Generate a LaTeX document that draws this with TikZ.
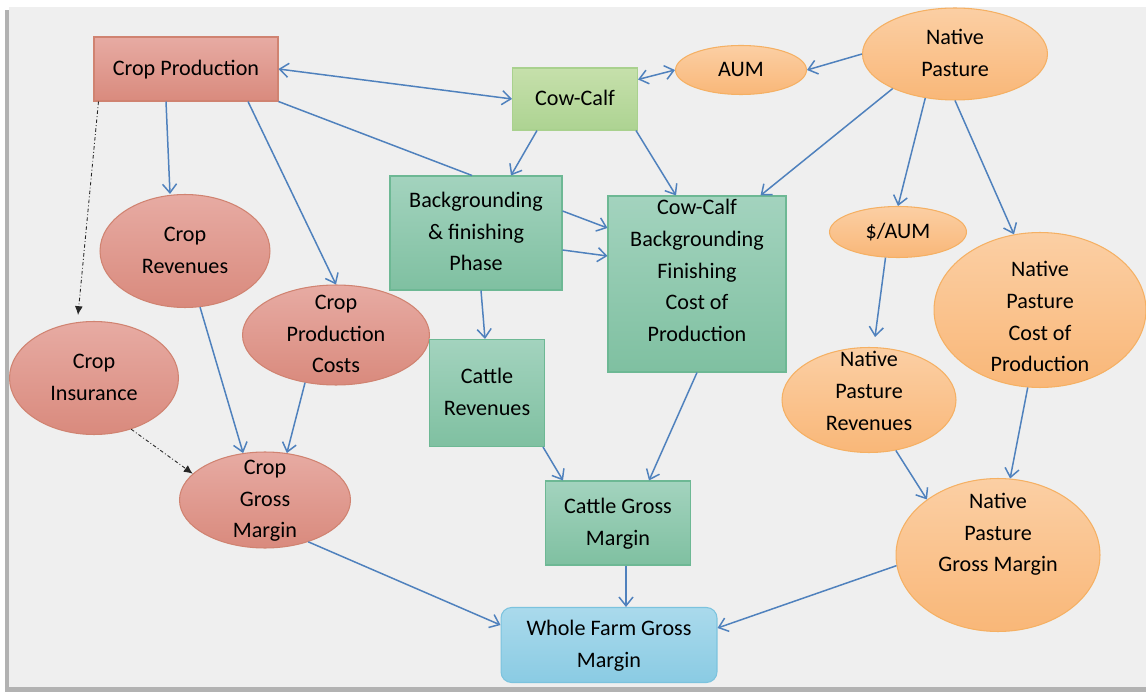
\documentclass[tikz,border=0pt]{standalone}
\usepackage{fontspec}
\setmainfont{Carlito}
\usetikzlibrary{shapes.geometric, arrows.meta, calc}
\definecolor{linkblue}{HTML}{4F81BD}
\definecolor{panelgray}{HTML}{EFEFEF}
\definecolor{croptop}{HTML}{E7ABA3}
\definecolor{cropbot}{HTML}{D98A7D}
\definecolor{cropline}{HTML}{D08371}
\definecolor{calftop}{HTML}{C6E0AB}
\definecolor{calfbot}{HTML}{ADD392}
\definecolor{calfline}{HTML}{A9D18E}
\definecolor{cattletop}{HTML}{A3D3BE}
\definecolor{cattlebot}{HTML}{7FC0A1}
\definecolor{cattleline}{HTML}{6DB894}
\definecolor{pasturetop}{HTML}{FBCFA4}
\definecolor{pasturebot}{HTML}{F9B778}
\definecolor{pastureline}{HTML}{F5B063}
\definecolor{farmtop}{HTML}{AADAEC}
\definecolor{farmbot}{HTML}{8ACBE3}
\definecolor{farmline}{HTML}{7CC3DE}
% text block with zero height, shifted up by the optional argument
\newcommand{\nodetxt}[2][0pt]{\raisebox{\dimexpr#1-3pt\relax}[0pt][0pt]{\begin{tabular}{@{}c@{}}#2\end{tabular}}}

\begin{document}
\begin{tikzpicture}[x=0.02cm, y=-0.02cm, >={Straight Barb[length=5pt,width=8pt]}, font=\fontsize{12.6}{18}\selectfont]
\tikzstyle{cropbox} = [rectangle, draw=cropline, top color=croptop, bottom color=cropbot, line width=0.6pt, text=black, inner sep=0pt]
\tikzstyle{cropoval} = [ellipse, draw=cropline, top color=croptop, bottom color=cropbot, line width=0.6pt, text=black, inner sep=0pt]
\tikzstyle{calfbox} = [rectangle, draw=calfline, top color=calftop, bottom color=calfbot, line width=0.6pt, text=black, inner sep=0pt]
\tikzstyle{cattlebox} = [rectangle, draw=cattleline, top color=cattletop, bottom color=cattlebot, line width=0.6pt, text=black, inner sep=0pt]
\tikzstyle{pastureoval} = [ellipse, draw=pastureline, top color=pasturetop, bottom color=pasturebot, line width=0.6pt, text=black, inner sep=0pt]
\tikzstyle{farmbox} = [rectangle, rounded corners=6pt, draw=farmline, top color=farmtop, bottom color=farmbot, line width=0.6pt, text=black, inner sep=0pt]
\tikzstyle{link} = [draw=linkblue, line width=0.85pt]
\tikzstyle{hint} = [draw=black!85, line width=0.5pt, dash pattern=on 2pt off 1.3pt on 0.5pt off 1.3pt, -{Latex[length=5pt,width=4.5pt]}]

% frame
\useasboundingbox (0,0) rectangle (1146,692);
\fill[white] (0,0) rectangle (1146,692);
\fill[black!30] (5,10) rectangle (1146,692);
\fill[panelgray] (9,7) rectangle (1146,687);

% crop side
\node (cp) [cropbox, minimum width=3.68cm, minimum height=1.28cm] at (186,69) {\nodetxt{Crop Production}};
\node (crev) [cropoval, minimum width=3.4cm, minimum height=2.26cm] at (185,251) {\nodetxt{Crop\\Revenues}};
\node (cpc) [cropoval, minimum width=3.74cm, minimum height=2cm] at (336,335) {\nodetxt{Crop\\Production\\Costs}};
\node (cins) [cropoval, minimum width=3.38cm, minimum height=2.26cm] at (94,378) {\nodetxt{Crop\\Insurance}};
\node (cgm) [cropoval, minimum width=3.42cm, minimum height=1.92cm] at (265,500) {\nodetxt{Crop\\Gross\\Margin}};

% cattle side
\node (cc) [calfbox, minimum width=2.5cm, minimum height=1.24cm] at (575,99) {\nodetxt{Cow-Calf}};
\node (bg) [cattlebox, minimum width=3.44cm, minimum height=2.28cm] at (476,233) {\nodetxt{Backgrounding\\\& finishing\\Phase}};
\node (cost) [cattlebox, minimum width=3.56cm, minimum height=3.52cm] at (697,284) {\nodetxt[7pt]{Cow-Calf\\Backgrounding\\Finishing\\Cost of\\Production}};
\node (crevc) [cattlebox, minimum width=2.3cm, minimum height=2.14cm] at (487,393) {\nodetxt{Cattle\\Revenues}};
\node (cagm) [cattlebox, minimum width=2.9cm, minimum height=1.68cm] at (618,523) {\nodetxt{Cattle Gross\\Margin}};

% pasture side
\node (aum) [pastureoval, minimum width=2.62cm, minimum height=0.98cm] at (741,70) {\nodetxt{AUM}};
\node (np) [pastureoval, minimum width=3.7cm, minimum height=1.84cm] at (955,54) {\nodetxt{Native\\Pasture}};
\node (daum) [pastureoval, minimum width=2.74cm, minimum height=1.02cm] at (898,232) {\nodetxt{\$/AUM}};
\node (npcost) [pastureoval, minimum width=4.24cm, minimum height=3.1cm] at (1040,310) {\nodetxt[-4.5pt]{Native\\Pasture\\Cost of\\Production}};
\node (nprev) [pastureoval, minimum width=3.48cm, minimum height=2.1cm] at (869,400) {\nodetxt[4.5pt]{Native\\Pasture\\Revenues}};
\node (npgm) [pastureoval, minimum width=4.08cm, minimum height=3.06cm] at (998,555) {\nodetxt[12pt]{Native\\Pasture\\Gross Margin}};

% whole farm
\node (wf) [farmbox, minimum width=4.32cm, minimum height=1.5cm] at (609,645) {\nodetxt{Whole Farm Gross\\Margin}};

% crop links
\draw[<->, link] (cp.east) -- (cc.west);
\draw[->, link] ($(cp.south)+(-20,0)$) -- ($(crev.north)+(-15,0)$);
\draw[->, link] ($(cp.south)+(62,0)$) -- (cpc.north);
\draw[link] (cp.south east) -- ($(bg.north)+(-4,0)$);
\draw[hint] ($(cp.south west)+(5,0)$) -- ($(cins.north)+(-16,-6)$);
\draw[hint] (cins.-54) -- (cgm.160);
\draw[->, link] (crev.-75) -- (cgm.115);
\draw[->, link] (cpc.-123) -- (cgm.65);
\draw[->, link] (cgm.-44) -- ($(wf.west)+(0,-20)$);

% cattle links
\draw[<->, link] ($(cc.north east)+(0,12)$) -- (aum.west);
\draw[->, link] ($(cc.south)+(-38,0)$) -- ($(bg.north)+(35,0)$);
\draw[->, link] ($(cc.south)+(61,0)$) -- ($(cost.north)+(-21,0)$);
\draw[->, link] ($(bg.east)+(0,-22)$) -- ($(cost.west)+(0,-56)$);
\draw[->, link] ($(bg.east)+(0,17)$) -- ($(cost.west)+(0,-28)$);
\draw[->, link] ($(bg.south)+(5,0)$) -- ($(crevc.north)+(-2,0)$);
\draw[->, link] ($(crevc.south east)+(-2,0)$) -- ($(cagm.north)+(-55,0)$);
\draw[->, link] (cost.south) -- ($(cagm.north)+(31,0)$);
\draw[->, link] ($(cagm.south)+(8,0)$) -- ($(wf.north)+(17,0)$);

% pasture links
\draw[->, link] (np.west) -- (aum.east);
\draw[->, link] (np.209) -- ($(cost.north east)+(-26,0)$);
\draw[->, link] (np.236) -- (daum.north);
\draw[->, link] (np.south) -- (npcost.109);
\draw[->, link] (daum.244) -- ($(nprev.north)+(6,-10)$);
\draw[->, link] (nprev.-62) -- (npgm.142);
\draw[->, link] (npcost.261) -- (npgm.81);
\draw[->, link] (npgm.186) -- ($(wf.east)+(0,-17)$);

\end{tikzpicture}
\end{document}
